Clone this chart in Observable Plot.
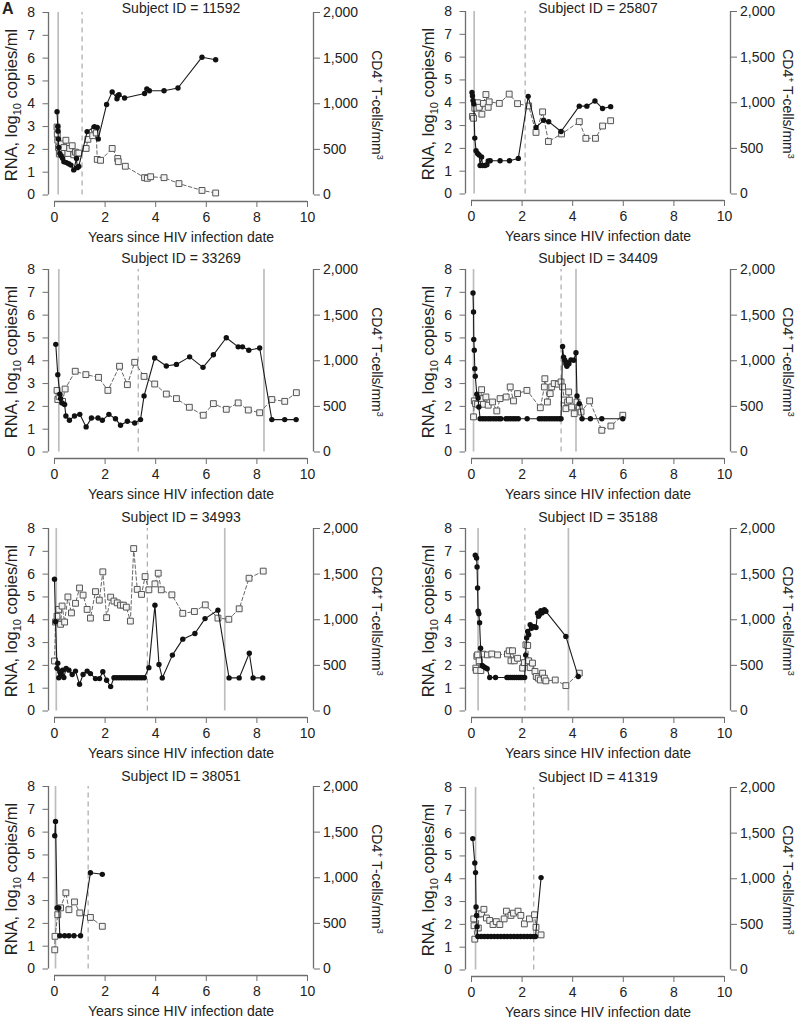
<!DOCTYPE html>
<html>
<head>
<meta charset="utf-8">
<script src="https://cdn.jsdelivr.net/npm/d3@7"></script>
<script src="https://cdn.jsdelivr.net/npm/@observablehq/plot@0.6"></script>
<style>
  html, body { margin: 0; padding: 0; background: #fff; overflow: hidden; }
  #wrap { position: relative; width: 800px; height: 1019px; overflow: hidden; background: #fff; }
  .panel { position: absolute; }
  #letter { position: absolute; left: 2px; top: 1px; font: bold 16px 'Liberation Sans', Arial, sans-serif; color: #222; line-height: 16px; }
</style>
</head>
<body>
<div id="wrap"><div id="letter">A</div></div>
<script>
// ---------- tick values & labels ----------
const xTicks = [0, 2, 4, 6, 8, 10];
const rnaTicks = [0, 1, 2, 3, 4, 5, 6, 7, 8];
const cd4Ticks = [0, 500, 1000, 1500, 2000];
const xLabel = "Years since HIV infection date";
const rnaLabel = "RNA, log10 copies/ml";
const cd4Label = "CD4+ T-cells/mm3";
const subjectIds = ["11592", "25807", "33269", "34409", "34993", "35188", "38051", "41319"];

// ---------- data: [years, log10 RNA] and [years, CD4 cells/mm3] ----------
const rna11592 = [[0.10,3.65],[0.13,3.0],[0.14,2.8],[0.15,2.45],[0.17,2.08],[0.21,1.82],[0.26,1.72],[0.32,1.61],[0.37,1.46],[0.47,1.42],[0.56,1.37],[0.65,1.31],[0.76,1.10],[0.87,1.60],[0.90,1.20],[0.96,1.25],[1.29,2.78],[1.58,2.99],[1.69,2.96],[1.73,2.46],[2.06,3.97],[2.28,4.52],[2.47,4.22],[2.50,4.35],[2.55,4.40],[2.77,4.25],[3.56,4.45],[3.65,4.65],[3.75,4.57],[4.33,4.57],[4.88,4.69],[5.83,6.04],[6.37,5.93]];
const cd4_11592 = [[0.10,745],[0.11,668],[0.13,600],[0.16,520],[0.19,450],[0.25,560],[0.31,470],[0.37,520],[0.45,600],[0.53,455],[0.60,510],[0.70,540],[0.76,440],[0.83,470],[0.90,455],[0.96,460],[1.25,510],[1.32,610],[1.51,650],[1.58,725],[1.65,680],[1.69,390],[1.82,380],[2.28,510],[2.50,400],[2.52,365],[2.80,315],[3.56,190],[3.67,183],[3.80,200],[4.33,190],[4.92,125],[5.83,50],[6.37,22]];
const solid11592 = [0.145];
const dashed11592 = [1.09];

const rna25807 = [[0.02,4.45],[0.04,4.30],[0.06,4.10],[0.09,3.95],[0.13,2.45],[0.18,1.90],[0.24,1.78],[0.30,1.71],[0.34,1.25],[0.40,1.62],[0.44,1.25],[0.53,1.25],[0.61,1.28],[0.66,1.45],[0.74,1.46],[1.13,1.46],[1.50,1.46],[1.85,1.56],[2.24,4.28],[2.55,2.92],[2.85,3.23],[3.05,3.17],[3.54,2.74],[4.26,3.85],[4.56,3.85],[4.88,4.08],[5.18,3.75],[5.50,3.83]];
const cd4_25807 = [[0.04,850],[0.08,830],[0.13,940],[0.24,1000],[0.30,950],[0.41,875],[0.47,993],[0.57,1090],[0.66,950],[0.70,1010],[1.10,993],[1.49,1095],[1.82,990],[2.26,965],[2.55,675],[2.81,900],[3.04,575],[3.56,658],[4.26,793],[4.52,610],[4.90,610],[5.18,745],[5.50,803]];
const solid25807 = [0.105];
const dashed25807 = [2.12];

const rna33269 = [[0.05,4.72],[0.13,3.39],[0.21,2.53],[0.24,2.34],[0.30,2.15],[0.40,2.08],[0.45,1.58],[0.59,1.39],[0.79,1.58],[1.00,1.65],[1.25,1.10],[1.46,1.49],[1.72,1.49],[1.89,1.39],[2.15,1.65],[2.41,1.46],[2.61,1.17],[2.88,1.35],[3.17,1.27],[3.40,1.42],[3.54,2.46],[3.96,4.12],[4.42,3.77],[4.82,3.84],[5.34,4.17],[5.87,3.71],[6.28,4.26],[6.79,5.01],[7.26,4.61],[7.43,4.61],[7.68,4.46],[8.11,4.56],[8.59,1.42],[9.10,1.42],[9.55,1.42]];
const cd4_33269 = [[0.10,675],[0.13,575],[0.18,610],[0.32,555],[0.42,690],[0.82,885],[1.24,848],[1.74,818],[2.11,675],[2.57,940],[2.88,738],[3.17,983],[3.54,828],[3.96,745],[4.42,635],[4.82,585],[5.33,490],[5.88,403],[6.28,530],[6.79,468],[7.26,538],[7.66,460],[8.11,430],[8.59,575],[9.10,555],[9.56,650]];
const solid33269 = [0.17, 8.28];
const dashed33269 = [3.31];

const rna34409 = [[0.06,6.97],[0.08,6.14],[0.09,4.93],[0.11,4.46],[0.13,3.65],[0.15,3.32],[0.21,2.53],[0.26,2.37],[0.29,1.97],[0.34,1.46],[0.45,1.46],[0.55,1.46],[0.66,1.46],[0.76,1.46],[0.87,1.46],[0.97,1.46],[1.08,1.46],[1.16,1.46],[1.36,1.46],[1.45,1.46],[1.55,1.46],[1.65,1.46],[1.75,1.46],[1.85,1.46],[2.20,1.46],[2.68,1.46],[2.78,1.46],[2.88,1.46],[2.98,1.46],[3.08,1.46],[3.18,1.46],[3.28,1.46],[3.38,1.46],[3.48,1.46],[3.54,1.46],[3.60,4.63],[3.64,4.16],[3.69,4.02],[3.73,3.87],[3.77,3.76],[3.80,3.92],[3.85,3.87],[3.93,4.04],[4.04,4.02],[4.13,4.35],[4.17,2.46],[4.26,2.12],[4.37,1.46],[4.70,1.46],[5.15,1.46],[5.98,1.46]];
const cd4_34409 = [[0.08,385],[0.11,560],[0.16,530],[0.24,523],[0.37,585],[0.40,683],[0.47,523],[0.57,603],[0.66,513],[0.83,548],[1.00,450],[1.13,585],[1.37,603],[1.53,713],[1.66,560],[1.82,640],[2.19,675],[2.72,485],[2.88,713],[2.90,803],[3.00,548],[3.11,640],[3.17,713],[3.27,750],[3.43,743],[3.54,768],[3.60,713],[3.67,570],[3.73,475],[3.80,548],[3.84,658],[3.87,568],[3.96,493],[4.06,420],[4.17,548],[4.26,493],[4.33,438],[4.67,560],[5.15,238],[5.51,285],[5.98,403]];
const solid34409 = [0.08, 4.13];
const dashed34409 = [3.54];

const rna34993 = [[0.00,5.78],[0.04,3.91],[0.10,1.87],[0.13,2.09],[0.17,1.46],[0.21,1.72],[0.26,1.60],[0.32,1.79],[0.37,1.47],[0.46,1.86],[0.57,1.79],[0.70,1.60],[0.83,1.75],[0.99,1.17],[1.13,1.60],[1.29,1.75],[1.42,1.64],[1.62,1.42],[1.78,1.42],[1.91,1.72],[2.06,1.35],[2.22,1.07],[2.35,1.46],[2.45,1.46],[2.55,1.46],[2.65,1.46],[2.75,1.46],[2.85,1.46],[2.95,1.46],[3.05,1.46],[3.15,1.46],[3.25,1.46],[3.35,1.46],[3.45,1.46],[3.55,1.46],[3.73,1.90],[3.97,4.64],[4.13,2.04],[4.26,1.45],[4.66,2.45],[5.07,3.15],[5.55,3.40],[5.95,4.05],[6.46,4.42],[6.90,1.45],[7.30,1.45],[7.70,2.53],[7.85,1.45],[8.23,1.45]];
const cd4_34993 = [[0.00,548],[0.04,975],[0.10,1038],[0.17,1113],[0.24,950],[0.30,1150],[0.40,975],[0.53,1250],[0.67,1075],[0.83,1180],[0.99,1348],[1.13,1270],[1.29,1113],[1.42,1018],[1.62,1308],[1.77,1215],[1.91,1525],[2.06,1023],[2.22,1248],[2.35,1205],[2.48,1185],[2.61,1160],[2.72,1160],[2.84,1138],[3.00,985],[3.13,1780],[3.27,1333],[3.44,1278],[3.58,1473],[3.73,1328],[3.97,1393],[4.10,1510],[4.22,1328],[4.64,1273],[5.07,1070],[5.53,1090],[5.96,1163],[6.46,1018],[6.89,1005],[7.30,1120],[7.69,1455],[8.25,1533]];
const solid34993 = [0.07, 6.73];
const dashed34993 = [3.67];

const rna35188 = [[0.15,6.83],[0.20,6.71],[0.22,6.31],[0.24,5.39],[0.26,4.37],[0.29,4.26],[0.32,3.87],[0.36,2.75],[0.42,2.00],[0.47,1.95],[0.55,1.90],[0.62,1.85],[0.72,1.47],[0.95,1.47],[1.40,1.47],[1.47,1.47],[1.55,1.47],[1.62,1.47],[1.70,1.47],[1.78,1.47],[1.86,1.47],[1.93,1.47],[2.00,1.47],[2.10,1.47],[2.14,2.45],[2.18,3.20],[2.22,3.49],[2.26,3.34],[2.32,3.78],[2.37,3.63],[2.42,3.70],[2.48,3.70],[2.55,3.66],[2.61,4.29],[2.65,4.15],[2.68,4.22],[2.74,4.40],[2.78,4.30],[2.81,4.34],[2.88,4.44],[2.94,4.37],[3.73,3.27],[4.22,1.51]];
const cd4_35188 = [[0.17,470],[0.19,445],[0.21,600],[0.24,615],[0.30,550],[0.37,443],[0.45,623],[0.63,615],[0.80,625],[1.03,615],[1.42,625],[1.49,660],[1.56,550],[1.62,660],[1.69,550],[1.82,578],[2.02,470],[2.09,530],[2.15,725],[2.22,718],[2.26,550],[2.32,475],[2.41,525],[2.51,433],[2.56,378],[2.64,360],[2.72,340],[2.81,415],[2.88,360],[2.94,330],[3.31,340],[3.73,278],[4.26,415]];
const solid35188 = [0.26, 3.83];
const dashed35188 = [2.11];

const rna38051 = [[0.01,5.84],[0.04,6.47],[0.10,2.68],[0.17,2.68],[0.21,1.46],[0.40,1.46],[0.57,1.46],[0.77,1.46],[1.03,1.46],[1.42,4.22],[1.89,4.15]];
const cd4_38051 = [[0.01,210],[0.02,358],[0.13,595],[0.24,670],[0.45,835],[0.57,650],[0.79,735],[1.00,615],[1.42,565],[1.89,468]];
const solid38051 = [0.04];
const dashed38051 = [1.33];

const rna41319 = [[0.05,5.76],[0.13,4.69],[0.16,4.27],[0.18,2.76],[0.20,2.39],[0.22,1.90],[0.25,1.47],[0.38,1.47],[0.51,1.47],[0.64,1.47],[0.77,1.47],[0.90,1.47],[1.03,1.47],[1.16,1.47],[1.29,1.47],[1.42,1.47],[1.55,1.47],[1.68,1.47],[1.81,1.47],[1.94,1.47],[2.07,1.47],[2.20,1.47],[2.33,1.47],[2.46,1.47],[2.53,1.47],[2.75,4.05]];
const cd4_41319 = [[0.09,560],[0.10,485],[0.13,338],[0.27,460],[0.29,615],[0.40,615],[0.49,665],[0.59,570],[0.72,543],[0.85,498],[0.98,530],[1.12,498],[1.29,560],[1.38,645],[1.56,598],[1.66,623],[1.84,645],[1.95,598],[2.09,505],[2.29,560],[2.49,605],[2.55,468],[2.75,385]];
const solid41319 = [0.16];
const dashed41319 = [2.46];

// ---------- layout ----------
const series = [
  [rna11592, cd4_11592, solid11592, dashed11592],
  [rna25807, cd4_25807, solid25807, dashed25807],
  [rna33269, cd4_33269, solid33269, dashed33269],
  [rna34409, cd4_34409, solid34409, dashed34409],
  [rna34993, cd4_34993, solid34993, dashed34993],
  [rna35188, cd4_35188, solid35188, dashed35188],
  [rna38051, cd4_38051, solid38051, dashed38051],
  [rna41319, cd4_41319, solid41319, dashed41319]
];
const layout = [
  {left: -6, top: -10, gap: 4, rdx: 63},
  {left: 411, top: -11, gap: 3, rdx: 57},
  {left: -6, top: 247, gap: 10.5, rdx: 63},
  {left: 411, top: 247, gap: 10.5, rdx: 57},
  {left: -6, top: 506, gap: 10.5, rdx: 63},
  {left: 411, top: 506, gap: 10.5, rdx: 57},
  {left: -6, top: 764, gap: 10, rdx: 63},
  {left: 411, top: 765, gap: 10, rdx: 57}
];

const fmt = d3.format(",");
const W = 400, H = 258, MT = 22, PLOT_H = 182.5, GAP = 6.5, PX_X = 25.3, AX_GAP = 6;
const xmin = -AX_GAP / PX_X, xmax = 10 + AX_GAP / PX_X;
const ymin = -GAP / (PLOT_H / 8);
const axisCol = "#6e6e6e", textCol = "#222";

function makePanel(i) {
  const [rnaArr, cd4Arr, solid, dashed] = series[i];
  const L = layout[i];
  const rna = rnaArr.map(([t, v]) => ({t, v}));
  const cd4 = cd4Arr.map(([t, c]) => ({t, y: c / 250}));
  const svg = Plot.plot({
    width: W, height: H,
    marginLeft: 54, marginRight: W - 54 - (xmax - xmin) * PX_X,
    marginTop: MT, marginBottom: H - MT - PLOT_H - GAP,
    x: {domain: [xmin, xmax]},
    y: {domain: [ymin, 8]},
    style: {fontFamily: "'Liberation Sans', Arial, Helvetica, sans-serif", fontSize: "14px", color: textCol, background: "transparent", overflow: "visible"},
    marks: [
      Plot.ruleX(solid, {x: d => d, y1: 0, y2: 8, stroke: "#bdbdbd", strokeWidth: 1.7}),
      Plot.ruleX(dashed, {x: d => d, y1: 0, y2: 8, stroke: "#a9a9a9", strokeWidth: 1.2, strokeDasharray: "5,4"}),
      Plot.line(cd4, {x: "t", y: "y", stroke: "#666", strokeWidth: 1, strokeDasharray: "3.5,2.5"}),
      Plot.dot(cd4, {x: "t", y: "y", symbol: "square", r: 3.3, fill: "#f3f3f3", stroke: "#555", strokeWidth: 1}),
      Plot.line(rna, {x: "t", y: "v", stroke: "#1a1a1a", strokeWidth: 1.1}),
      Plot.dot(rna, {x: "t", y: "v", r: 2.7, fill: "#111"}),
      Plot.ruleX([xmin, xmax], {x: d => d, y1: 0, y2: 8, stroke: axisCol, strokeWidth: 1.3}),
      Plot.ruleY([ymin], {y: d => d, x1: 0, x2: 10, stroke: axisCol, strokeWidth: 1.3}),
      Plot.axisY({anchor: "left", ticks: rnaTicks, tickSize: 5.5, tickPadding: 8, stroke: axisCol, fill: textCol, label: null, tickFormat: d => String(d)}),
      Plot.axisY({anchor: "right", ticks: cd4Ticks.map(c => c / 250), tickSize: 6, tickPadding: 3.5, stroke: axisCol, fill: textCol, label: null, tickFormat: d => fmt(Math.round(d * 250))}),
      Plot.axisX({anchor: "bottom", ticks: xTicks, tickSize: 6, tickPadding: 4.5, stroke: axisCol, fill: textCol, label: null, tickFormat: d => String(d)}),
      Plot.text([xLabel], {frameAnchor: "bottom", dy: 36, textAnchor: "middle", lineAnchor: "middle", fill: textCol}),
      Plot.text(["Subject ID = " + subjectIds[i]], {frameAnchor: "top", dy: -L.gap, textAnchor: "middle", lineAnchor: "middle", fill: textCol}),
      Plot.text([rnaLabel], {frameAnchor: "left", rotate: -90, dx: -37, dy: -2, fontSize: 16.5, textAnchor: "middle", lineAnchor: "middle", fill: textCol}),
      Plot.text([cd4Label], {frameAnchor: "right", rotate: 90, dx: L.rdx, dy: -2, textAnchor: "middle", lineAnchor: "middle", fill: textCol})
    ]
  });
  // sub/superscripts in axis titles
  d3.select(svg).selectAll("text").filter(function () { return this.textContent === rnaLabel; }).each(function () {
    const t = d3.select(this); t.text(null);
    t.append("tspan").text("RNA, log");
    t.append("tspan").attr("dy", 4).attr("font-size", 11).text("10");
    t.append("tspan").attr("dy", -4).text(" copies/ml");
  });
  d3.select(svg).selectAll("text").filter(function () { return this.textContent === cd4Label; }).each(function () {
    const t = d3.select(this); t.text(null);
    t.append("tspan").text("CD4");
    t.append("tspan").attr("dy", -5).attr("font-size", 9).text("+");
    t.append("tspan").attr("dy", 5).text(" T-cells/mm");
    t.append("tspan").attr("dy", -5).attr("font-size", 9).text("3");
  });
  svg.classList.add("panel");
  svg.style.left = L.left + "px";
  svg.style.top = L.top + "px";
  return svg;
}

const wrap = document.getElementById("wrap");
for (let i = 0; i < series.length; i++) wrap.appendChild(makePanel(i));
</script>
</body>
</html>
